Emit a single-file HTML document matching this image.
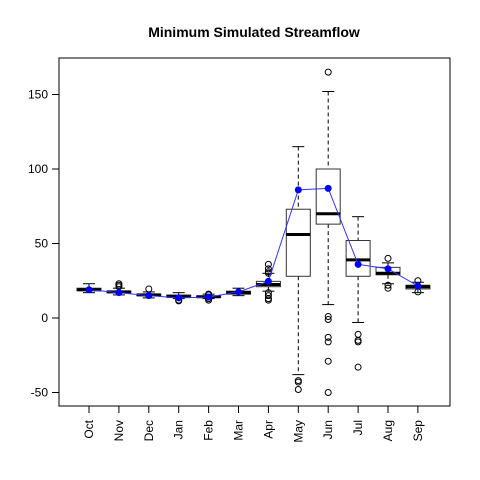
<!DOCTYPE html>
<html><head><meta charset="utf-8"><style>body{margin:0;background:#fff}svg{display:block;font-family:"Liberation Sans",sans-serif}</style></head>
<body>
<svg id="chart" width="480" height="480">
<text x="254" y="37" text-anchor="middle" font-size="14" font-weight="bold">Minimum Simulated Streamflow</text>
<rect x="59" y="58" width="391" height="348" fill="none" stroke="#000"/>
<g id="g"></g>
</svg>
<script>
const months=["Oct","Nov","Dec","Jan","Feb","Mar","Apr","May","Jun","Jul","Aug","Sep"];
const whiskLo=[17,15.5,13.5,13,13,15,18,-38,9,-3,23,17];
const q1=[18.3,17,15,14,13.8,16,21,28,63,28,29,19.5];
const medians=[19,17.5,15.5,14.5,14.3,17,22.5,56,70,39,30,21];
const q3=[20,18,16,15.4,14.8,18,24.6,73,100,52,34,22];
const whiskHi=[23,20,17.5,17,16,20,30,115,152,68,37,24];
const outliers=[[],[21,22,23],[19.5],[11.5,12],[12,13,15.5,16],[],[36,33,31,30,17,15,13,12],[-42,-43,-48],[165,1,-1,-13,-16,-29,-50],[-11,-15,-16,-33],[40,22,20],[25,17.5]];
const means=[19,17,15,13.5,14,17.5,24.6,86,87,36,33,21.5];
const yTicks=[-50,0,50,100,150];
const g=document.getElementById('g');
const NS="http://www.w3.org/2000/svg";
const x=i=>89+i*29.9;
const y=v=>318-v*1.49;
function mk(t,a){const e=document.createElementNS(NS,t);for(const k in a)e.setAttribute(k,a[k]);g.appendChild(e);return e;}
yTicks.forEach(v=>{
 const l=mk('line',{x1:52,x2:59,y1:y(v),y2:y(v),stroke:'#000'});
 
 
 const t=mk('text',{x:48,y:y(v)+4,'font-size':12,'text-anchor':'end'});
 t.textContent=v;
 
 
});
months.forEach((m,i)=>{
 const cx=x(i),w=12;
 const tk=mk('line',{x1:cx,x2:cx,y1:406,y2:413,stroke:'#000'});
 
 
 const t=mk('text',{x:cx+4,y:420,'font-size':12,'text-anchor':'end',transform:`rotate(-90 ${cx+4} 420)`});
 t.textContent=m;
 
 
 const wl=mk('line',{x1:cx,x2:cx,y1:y(whiskHi[i]),y2:y(q3[i]),stroke:'#000','stroke-dasharray':'4,3'});
 
 
 const wl2=mk('line',{x1:cx,x2:cx,y1:y(q1[i]),y2:y(whiskLo[i]),stroke:'#000','stroke-dasharray':'4,3'});
 
 
 [whiskHi[i],whiskLo[i]].forEach(v=>{
  const c=mk('line',{x1:cx-6,x2:cx+6,y1:y(v),y2:y(v),stroke:'#000'});
  
  
 });
 const b=mk('rect',{x:cx-w,width:2*w,y:y(q3[i]),height:Math.max(1,y(q1[i])-y(q3[i])),fill:'#fff',stroke:'#333'});
 
 
 const md=mk('line',{x1:cx-w,x2:cx+w,y1:y(medians[i]),y2:y(medians[i]),stroke:'#000','stroke-width':3});
 
 
 outliers[i].forEach(v=>{
  const o=mk('circle',{cx:cx,cy:y(v),r:3,fill:'none',stroke:'#000'});
  
  
 });
});
const pl=mk('polyline',{points:means.map((v,i)=>x(i)+','+y(v)).join(' '),fill:'none',stroke:'#3333ff','stroke-width':1});


means.forEach((v,i)=>{
 const p=mk('circle',{cx:x(i),cy:y(v),r:3.5,fill:'#0000ff'});
 
 
});
</script>
</body></html>
